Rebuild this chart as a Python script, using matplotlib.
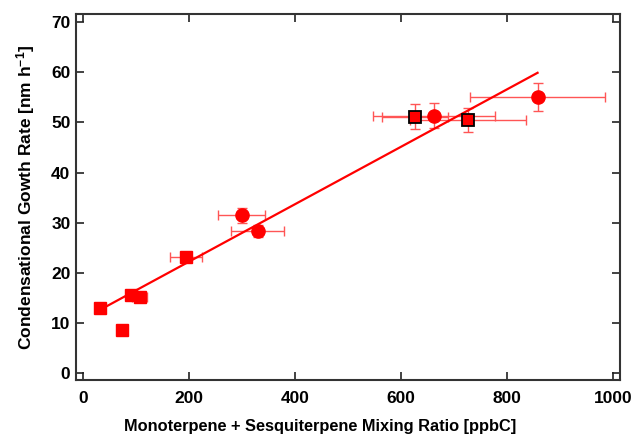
import matplotlib
matplotlib.use("Agg")
import matplotlib.pyplot as plt
import numpy as np

# squares without error bars / with small x error
sq_x = [32, 74, 90, 107, 194]
sq_y = [12.9, 8.7, 15.6, 15.2, 23.2]
sq_xerr = [0, 0, 0, 14, 30]

# circles with error bars
ci_x = [299, 330, 662, 857]
ci_y = [31.5, 28.3, 51.3, 55.1]
ci_xerr = [45, 50, 115, 128]
ci_yerr = [1.5, 1.2, 2.5, 2.8]

# black-edged squares
bs_x = [626, 726]
bs_y = [51.1, 50.5]
bs_xerr = [63, 109]
bs_yerr = [2.5, 2.4]

# linear fit
fit_slope = 0.0573
fit_intercept = 10.77

plt.rcParams['font.family'] = ['Liberation Sans', 'DejaVu Sans']
plt.rcParams['font.weight'] = 'bold'
plt.rcParams['mathtext.fontset'] = 'custom'
plt.rcParams['mathtext.rm'] = 'Liberation Sans:bold'
plt.rcParams['mathtext.bf'] = 'Liberation Sans:bold'
plt.rcParams['mathtext.default'] = 'rm'

fig = plt.figure(figsize=(6.33, 4.37), dpi=100)
ax = fig.add_axes([0.120, 0.130, 0.860, 0.838])

red = '#ff0000'
err_red = '#ff5555'

# error bars
ax.errorbar(sq_x, sq_y, xerr=sq_xerr, fmt='none', ecolor=err_red,
            elinewidth=1, capsize=3.5, capthick=1)
ax.errorbar(ci_x, ci_y, xerr=ci_xerr, yerr=ci_yerr, fmt='none',
            ecolor=err_red, elinewidth=1, capsize=3.5, capthick=1)
ax.errorbar(bs_x, bs_y, xerr=bs_xerr, yerr=bs_yerr, fmt='none',
            ecolor=err_red, elinewidth=1, capsize=3.5, capthick=1)

# fit line
all_x = np.array(sq_x + ci_x + bs_x)
lx = np.array([all_x.min(), all_x.max()])
ax.plot(lx, fit_slope * lx + fit_intercept, color=red, lw=1.6, zorder=3)

# markers
ax.plot(sq_x, sq_y, 's', color=red, ms=9, mec=red, zorder=4)
ax.plot(ci_x, ci_y, 'o', color=red, ms=9.5, mec=red, zorder=4)
ax.plot(bs_x, bs_y, 's', color=red, ms=8.5, mec='black', mew=1.3, zorder=5)

ax.set_xlim(-13, 1013)
ax.set_ylim(-1.4, 71.6)
ax.set_xticks(np.arange(0, 1001, 200))
ax.set_yticks(np.arange(0, 71, 10))
ax.tick_params(direction='in', length=6, width=1.2, top=True, right=True,
               labelsize=12.5, color='#222222')
ax.tick_params(axis='x', pad=8)
ax.tick_params(axis='y', pad=4)
for lab in ax.get_xticklabels() + ax.get_yticklabels():
    lab.set_fontweight('bold')
for s in ax.spines.values():
    s.set_linewidth(1.5)
    s.set_color('#333333')

ax.set_xlabel('Monoterpene + Sesquiterpene Mixing Ratio [ppbC]',
              fontsize=11.8, fontweight='bold', labelpad=12)
ax.xaxis.set_label_coords(0.449, -0.105)
ax.set_ylabel(r'Condensational Gowth Rate [nm h$^{-1}$]',
              fontsize=12.5, fontweight='bold', labelpad=10)

fig.savefig('out.png', dpi=100)
